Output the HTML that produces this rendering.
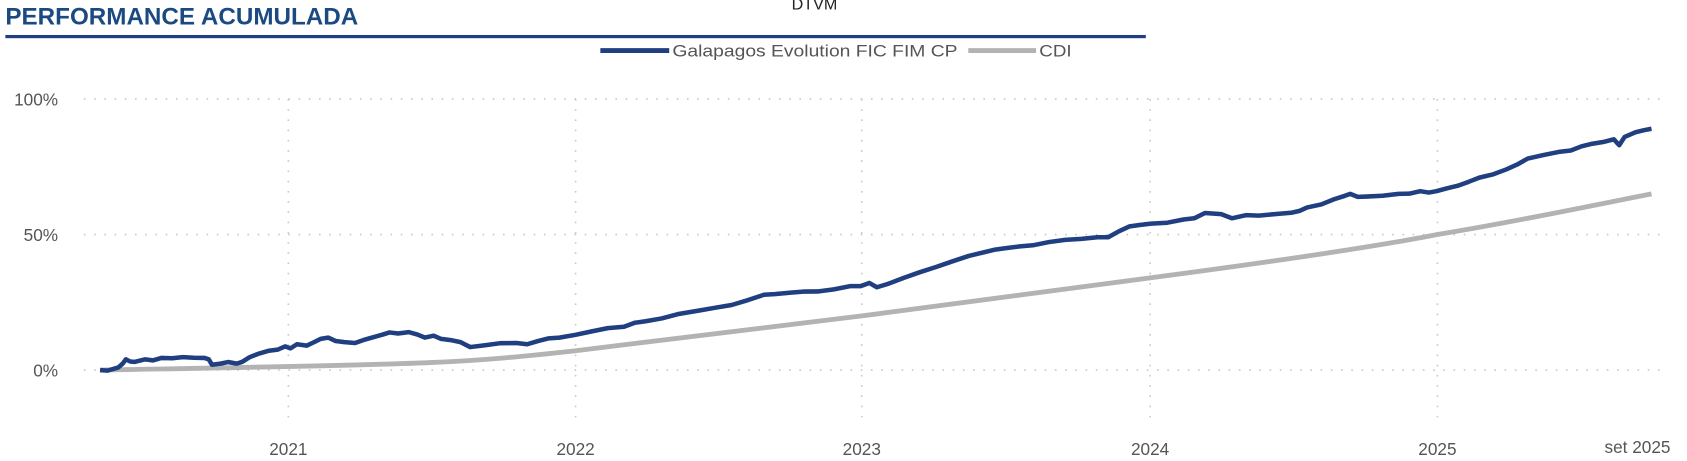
<!DOCTYPE html>
<html><head><meta charset="utf-8"><style>
html,body{margin:0;padding:0;background:#fff;overflow:hidden}
svg{display:block}
</style></head><body>
<svg width="1687" height="461" viewBox="0 0 1568 428.5" preserveAspectRatio="none" xmlns="http://www.w3.org/2000/svg" font-family="Liberation Sans, sans-serif">
<text x="5" y="23" font-size="22" font-weight="bold" fill="#1b4a82" textLength="328" lengthAdjust="spacingAndGlyphs">PERFORMANCE ACUMULADA</text>
<text x="757" y="9" font-size="15" fill="#222" text-anchor="middle">DTVM</text>
<rect x="5" y="32.5" width="1060" height="3" fill="#1f3f80"/>
<line x1="558" y1="47" x2="622" y2="47" stroke="#1f3f80" stroke-width="4.5"/>
<text x="625" y="52.5" font-size="15.5" fill="#555" textLength="265" lengthAdjust="spacingAndGlyphs">Galapagos Evolution FIC FIM CP</text>
<line x1="900" y1="47" x2="963" y2="47" stroke="#b3b3b3" stroke-width="4.5"/>
<text x="966" y="52.5" font-size="15.5" fill="#555" textLength="30" lengthAdjust="spacingAndGlyphs">CDI</text>
<g stroke="#c8c8c8" stroke-width="1.5" stroke-dasharray="1.5 8">
<line x1="78" y1="92" x2="1545" y2="92"/>
<line x1="78" y1="218" x2="1545" y2="218"/>
<line x1="78" y1="344" x2="1545" y2="344"/>
<line x1="268" y1="92" x2="268" y2="392"/>
<line x1="535" y1="92" x2="535" y2="392"/>
<line x1="801" y1="92" x2="801" y2="392"/>
<line x1="1069" y1="92" x2="1069" y2="392"/>
<line x1="1336" y1="92" x2="1336" y2="392"/>
</g>
<g font-size="16" fill="#555" text-anchor="end">
<text x="54" y="98">100%</text>
<text x="54" y="224">50%</text>
<text x="54" y="350">0%</text>
</g>
<g font-size="16" fill="#555" text-anchor="middle">
<text x="268" y="423">2021</text>
<text x="535" y="423">2022</text>
<text x="801" y="423">2023</text>
<text x="1069" y="423">2024</text>
<text x="1336" y="423">2025</text>
<text x="1522" y="421">set 2025</text>
</g>
<path fill="none" stroke="#b3b3b3" stroke-width="4.5" d="M93,344 C200,342 330,340 400,337 C450,335 490,331 535,326 C600,318 700,306 801,293.6 C900,281 1000,268 1069,258.3 C1200,241 1280,229 1336,218 C1420,204 1480,191 1535,180.2"/>
<polyline fill="none" stroke="#1f3f80" stroke-width="4.2" stroke-linejoin="round" points="93,344 100,344.5 110,341.5 114,338 117,334 121,336 125,336.4 135,334 142,335 150,332.7 160,333 170,332 180,332.5 190,332.7 194,334 197,339 205,338 212,336.5 220,338 225,336.4 232,332 240,328.9 250,326 258,325 265,322 270,323.8 276,320 285,321.3 292,318 298,315 305,313.8 312,317 320,318 330,318.8 338,316 345,314 355,311.2 362,309 370,310 380,308.7 388,311 395,313.8 403,312 410,315 420,316.3 428,318 437,322.6 450,321 465,319 480,318.8 490,320 500,317 510,314.5 520,313.8 535,311.2 550,308 565,305 580,303.7 590,300 600,298.6 615,296 630,292 650,288.6 665,286 680,283.5 695,279 710,274 720,273.4 735,272 748,271 760,270.9 775,269 790,266 800,265.9 808,263 815,267 825,264 840,258.3 855,253 870,248.2 885,243 900,238 910,235.6 925,232 935,230.6 948,229 960,228 975,225 990,223 1005,222 1020,220.5 1030,220.5 1040,215 1050,210.4 1060,209 1070,207.9 1085,207 1100,204 1110,202.9 1120,198 1135,199 1145,202.9 1158,200 1170,200.4 1185,199 1200,197.8 1208,196 1215,192.8 1228,190 1240,185.2 1250,182 1255,180.2 1262,183 1270,182.7 1285,182 1300,180.2 1310,180 1320,177.7 1328,179 1335,177.7 1345,175 1355,172.6 1365,169 1375,165.1 1388,162 1400,157.5 1410,153 1420,147.4 1435,144 1450,141 1460,139.9 1470,136 1480,133.6 1490,132 1500,129.5 1505,135 1510,127.3 1520,123 1528,121 1535,119.7"/>
</svg>
</body></html>
